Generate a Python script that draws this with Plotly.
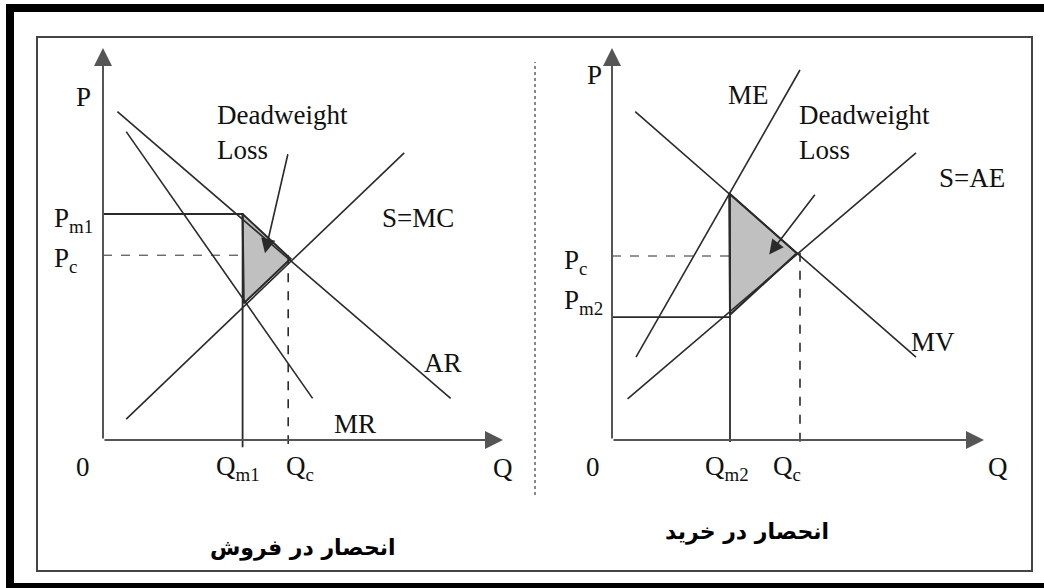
import plotly.graph_objects as go

# ---- left panel: monopoly in selling (Q, P in chart units) ----
sell_AR_q = [0.36, 8.69]
sell_AR_p = [8.21, 1.04]
sell_MR_q = [0.58, 5.24]
sell_MR_p = [7.71, 1.04]
sell_MC_q = [0.58, 7.53]
sell_MC_p = [0.52, 7.18]
sell_Qm, sell_Pm = 3.49, 5.65
sell_Qc, sell_Pc = 4.63, 4.62
sell_dwl_q = [3.49, 4.69, 3.52, 3.49]
sell_dwl_p = [5.65, 4.53, 3.42, 5.65]
sell_arrow_q = [4.63, 4.05]   # tail, head
sell_arrow_p = [7.18, 4.67]

# ---- right panel: monopsony (buying) ----
buy_MV_q = [0.58, 7.60]
buy_MV_p = [8.21, 2.07]
buy_ME_q = [0.60, 4.70]
buy_ME_p = [2.07, 9.25]
buy_AE_q = [0.39, 7.60]
buy_AE_p = [1.03, 7.18]
buy_Qm, buy_Pm = 2.95, 3.07
buy_Qm_top = 6.17
buy_Qc, buy_Pc = 4.70, 4.60
buy_dwl_q = [2.93, 4.62, 2.95, 2.93]
buy_dwl_p = [6.17, 4.67, 3.13, 6.17]
buy_arrow_q = [5.10, 3.93]
buy_arrow_p = [6.17, 4.64]

axis_q_max = 10.0
axis_p_max = 9.8

title_sell = "انحصار در فروش"
title_buy = "انحصار در خرید"

LINE = "#2a2a2a"
AXIS = "#555555"
SERIF = "Liberation Serif"
FS = 27

fig = go.Figure()


def line(q, p, xa, width=1.6, dash="solid", color=LINE):
    fig.add_scatter(x=q, y=p, mode="lines", xaxis=xa, yaxis="y",
                    line=dict(color=color, width=width, dash=dash),
                    hoverinfo="skip", showlegend=False)


def label(text, q, p, xa, xanchor="center", size=FS, align="center"):
    fig.add_annotation(text=text, x=q, y=p, xref=xa, yref="y", showarrow=False,
                       xanchor=xanchor, align=align,
                       font=dict(family=SERIF, size=size, color="#111"))


def arrow(q, p, xa, color=LINE, width=1.6, size=1.6):
    fig.add_annotation(x=q[1], y=p[1], ax=q[0], ay=p[0], xref=xa, yref="y",
                       axref=xa, ayref="y", text="", showarrow=True,
                       arrowhead=2, arrowsize=size, arrowwidth=width,
                       arrowcolor=color, standoff=0, startstandoff=0)


# left panel
line(sell_dwl_q, sell_dwl_p, "x", width=2)
fig.data[-1].update(fill="toself", fillcolor="#c0c0c0")
line(sell_AR_q, sell_AR_p, "x")
line(sell_MR_q, sell_MR_p, "x")
line(sell_MC_q, sell_MC_p, "x")
line([0, sell_Qm, sell_Qm], [sell_Pm, sell_Pm, -0.18], "x", width=1.8)
line([0, sell_Qm - 0.05], [sell_Pc, sell_Pc], "x", width=1, dash="dash")
line([sell_Qc, sell_Qc], [sell_Pc, -0.1], "x", width=1.6, dash="dash")
arrow([0, axis_q_max], [0, 0], "x", color=AXIS, width=2, size=1.8)
arrow([0, 0], [0, axis_p_max], "x", color=AXIS, width=2, size=1.8)
arrow(sell_arrow_q, sell_arrow_p, "x", size=1.8)

label("P", -0.49, 8.58, "x")
label("P<sub>m1</sub>", -0.74, 5.5, "x")
label("P<sub>c</sub>", -0.95, 4.5, "x")
label("0", -0.49, -0.67, "x")
label("Q<sub>m1</sub>", 3.38, -0.71, "x")
label("Q<sub>c</sub>", 4.93, -0.71, "x")
label("Q", 10.0, -0.71, "x")
label("Deadweight<br>Loss", 2.8, 7.7, "x", xanchor="left", align="left")
label("S=MC", 7.88, 5.54, "x")
label("AR", 8.51, 1.92, "x")
label("MR", 6.3, 0.4, "x")

# right panel
line(buy_dwl_q, buy_dwl_p, "x2", width=2)
fig.data[-1].update(fill="toself", fillcolor="#c0c0c0")
line(buy_MV_q, buy_MV_p, "x2")
line(buy_ME_q, buy_ME_p, "x2")
line(buy_AE_q, buy_AE_p, "x2")
line([0, buy_Qm, buy_Qm], [buy_Pm, buy_Pm, buy_Qm_top], "x2", width=1.8)
line([buy_Qm, buy_Qm], [buy_Pm, -0.05], "x2", width=1.8)
line([0, buy_Qm], [buy_Pc, buy_Pc], "x2", width=1, dash="dash")
line([buy_Qc, buy_Qc], [buy_Pc + 0.08, -0.18], "x2", width=1.6, dash="dash")
arrow([0, axis_q_max * 0.93], [0, 0], "x2", color=AXIS, width=2, size=1.8)
arrow([0, 0], [0, axis_p_max], "x2", color=AXIS, width=2, size=1.8)
arrow(buy_arrow_q, buy_arrow_p, "x2", size=1.8)

label("P", -0.43, 9.13, "x2")
label("P<sub>c</sub>", -0.92, 4.46, "x2")
label("P<sub>m2</sub>", -0.72, 3.46, "x2")
label("0", -0.47, -0.67, "x2")
label("Q<sub>m2</sub>", 2.87, -0.71, "x2")
label("Q<sub>c</sub>", 4.37, -0.71, "x2")
label("Q", 9.66, -0.67, "x2")
label("ME", 3.41, 8.63, "x2")
label("Deadweight<br>Loss", 4.62, 7.7, "x2", xanchor="left", align="left")
label("S=AE", 8.99, 6.54, "x2")
label("MV", 8.03, 2.46, "x2")

# panel titles
for txt, q, p, xa in [(title_sell, 5.01, -2.71, "x"), (title_buy, 3.37, -2.29, "x2")]:
    fig.add_annotation(text="<b>%s</b>" % txt, x=q, y=p, xref=xa, yref="y",
                       showarrow=False,
                       font=dict(family="DejaVu Sans", size=22, color="#000"))

# frame and separator
shapes = [
    dict(type="rect", xref="paper", yref="paper", x0=6 / 1044, x1=1, y0=1 - 12 / 588,
         y1=1 - 4 / 588, fillcolor="black", line_width=0),
    dict(type="rect", xref="paper", yref="paper", x0=6 / 1044, x1=14 / 1044, y0=0,
         y1=1 - 4 / 588, fillcolor="black", line_width=0),
    dict(type="rect", xref="paper", yref="paper", x0=6 / 1044, x1=1, y0=0,
         y1=5 / 588, fillcolor="black", line_width=0),
    dict(type="rect", xref="paper", yref="paper", x0=37 / 1044, x1=1032 / 1044,
         y0=1 - 571 / 588, y1=1 - 37 / 588, line=dict(color="#444", width=2)),
    dict(type="line", xref="paper", yref="paper", x0=535 / 1044, x1=535 / 1044,
         y0=1 - 495 / 588, y1=1 - 62 / 588, line=dict(color="#888", width=2, dash="dot")),
]

ax_off = dict(visible=False, showgrid=False, zeroline=False, fixedrange=True)
fig.update_layout(
    width=1044, height=588, autosize=False,
    margin=dict(l=0, r=0, t=0, b=0),
    paper_bgcolor="white", plot_bgcolor="white",
    xaxis=dict(domain=[0, 0.5], range=[-103 / 40, (522 - 103) / 40], **ax_off),
    xaxis2=dict(domain=[0.5, 1], range=[(522 - 612) / 40, (1044 - 612) / 40],
                anchor="y", **ax_off),
    yaxis=dict(domain=[0, 1], range=[-(588 - 440) / 40, 440 / 40], **ax_off),
    shapes=shapes,
    showlegend=False,
)

fig.write_html("out.html", config={"displayModeBar": False},
               post_script="document.body.style.margin='0';document.body.style.overflow='hidden';")
